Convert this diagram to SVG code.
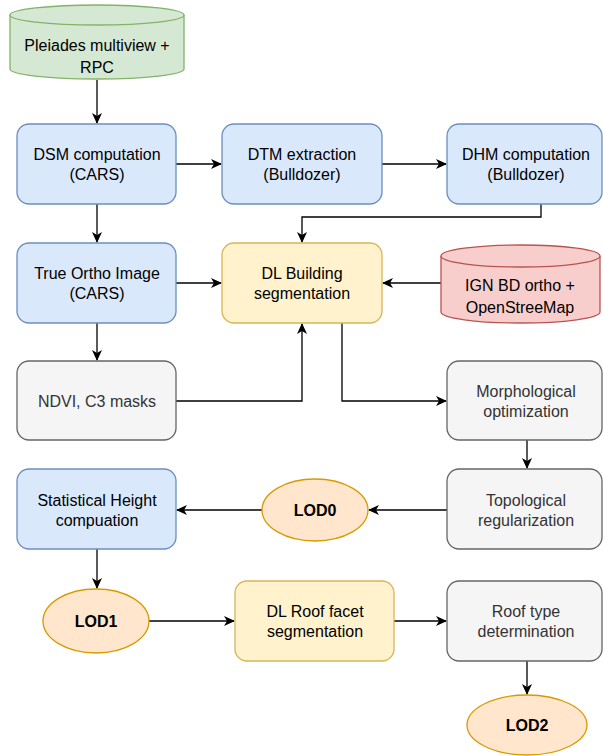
<svg xmlns="http://www.w3.org/2000/svg" width="603" height="756" viewBox="0 0 603 756">
<defs>
<marker id="arr" markerWidth="12" markerHeight="10" refX="10" refY="5" orient="auto" markerUnits="userSpaceOnUse">
<path d="M0,0 L11,5 L0,10 L3,5 Z" fill="#000"/>
</marker>
<style>
text{font-family:"Liberation Sans",Arial,sans-serif;font-size:16px;text-anchor:middle;fill:#000}
.g text{fill:#333}
.blue{fill:#dae8fc;stroke:#6c8ebf;stroke-width:1.3}
.yel{fill:#fff2cc;stroke:#d6b656;stroke-width:1.3}
.grn{fill:#d5e8d4;stroke:#82b366;stroke-width:1.3}
.red{fill:#f8cecc;stroke:#b85450;stroke-width:1.3}
.gry{fill:#f5f5f5;stroke:#666;stroke-width:1.3}
.org{fill:#ffe6cc;stroke:#d79b00;stroke-width:1.3}
.bold{font-weight:bold}
#edges path{fill:none;stroke:#000;stroke-width:1.3;marker-end:url(#arr)}
</style>
</defs>
<rect width="603" height="756" fill="#fff"/>
<g id="edges">
<path d="M97,80 V123"/>
<path d="M176,164 H221"/>
<path d="M382,164 H446"/>
<path d="M541,204 V217 H302 V242"/>
<path d="M97,204 V242"/>
<path d="M176,283 H221"/>
<path d="M441,283 H383"/>
<path d="M97,323 V360"/>
<path d="M176,401 H302 V324"/>
<path d="M342,323 V401 H446"/>
<path d="M527,440 V468"/>
<path d="M447,510 H369"/>
<path d="M262,510 H177"/>
<path d="M97,549 V588"/>
<path d="M149,621 H234"/>
<path d="M394,621 H446"/>
<path d="M527,661 V694"/>
</g>
<g id="pleiades">
<path class="grn" d="M10,15 A87,10 0 0 1 184,15 V69 A87,10 0 0 1 10,69 Z"/>
<path class="grn" d="M10,15 A87,10 0 0 0 184,15" fill="none"/>
<text x="97" y="51">Pleiades multiview +</text>
<text x="97" y="73">RPC</text>
</g>
<g id="dsm">
<rect class="blue" x="17" y="124" width="159" height="80" rx="12"/>
<text x="97" y="160">DSM computation</text>
<text x="97" y="180">(CARS)</text>
</g>
<g id="dtm">
<rect class="blue" x="222" y="124" width="160" height="80" rx="12"/>
<text x="302" y="160">DTM extraction</text>
<text x="302" y="180">(Bulldozer)</text>
</g>
<g id="dhm">
<rect class="blue" x="447" y="124" width="155" height="80" rx="12"/>
<text x="526" y="160">DHM computation</text>
<text x="526" y="180">(Bulldozer)</text>
</g>
<g id="trueortho">
<rect class="blue" x="17" y="243" width="159" height="80" rx="12"/>
<text x="97" y="279">True Ortho Image</text>
<text x="97" y="299">(CARS)</text>
</g>
<g id="dlbuilding">
<rect class="yel" x="222" y="243" width="160" height="80" rx="12"/>
<text x="302" y="279">DL Building</text>
<text x="302" y="299">segmentation</text>
</g>
<g id="ign">
<path class="red" d="M441,256 A79.5,11 0 0 1 600,256 V312 A79.5,11 0 0 1 441,312 Z"/>
<path class="red" d="M441,256 A79.5,11 0 0 0 600,256" fill="none"/>
<text x="520" y="291">IGN BD ortho +</text>
<text x="520" y="313">OpenStreeMap</text>
</g>
<g id="ndvi" class="g">
<rect class="gry" x="17" y="361" width="159" height="79" rx="12"/>
<text x="97" y="407">NDVI, C3 masks</text>
</g>
<g id="morph" class="g">
<rect class="gry" x="447" y="361" width="155" height="79" rx="12"/>
<text x="526" y="397">Morphological</text>
<text x="526" y="417">optimization</text>
</g>
<g id="topo" class="g">
<rect class="gry" x="447" y="469" width="155" height="80" rx="12"/>
<text x="526" y="506">Topological</text>
<text x="526" y="526">regularization</text>
</g>
<g id="lod0">
<ellipse class="org" cx="315" cy="510" rx="53" ry="31"/>
<text class="bold" x="315" y="516">LOD0</text>
</g>
<g id="stat">
<rect class="blue" x="17" y="469" width="159" height="80" rx="12"/>
<text x="97" y="506">Statistical Height</text>
<text x="97" y="526">compuation</text>
</g>
<g id="lod1">
<ellipse class="org" cx="96" cy="621" rx="53" ry="32"/>
<text class="bold" x="96" y="627">LOD1</text>
</g>
<g id="dlroof">
<rect class="yel" x="235" y="581" width="159" height="80" rx="12"/>
<text x="315" y="617">DL Roof facet</text>
<text x="315" y="637">segmentation</text>
</g>
<g id="rooftype" class="g">
<rect class="gry" x="447" y="581" width="155" height="80" rx="12"/>
<text x="526" y="617">Roof type</text>
<text x="526" y="637">determination</text>
</g>
<g id="lod2">
<ellipse class="org" cx="527" cy="725" rx="60" ry="30"/>
<text class="bold" x="527" y="731">LOD2</text>
</g>
</svg>
